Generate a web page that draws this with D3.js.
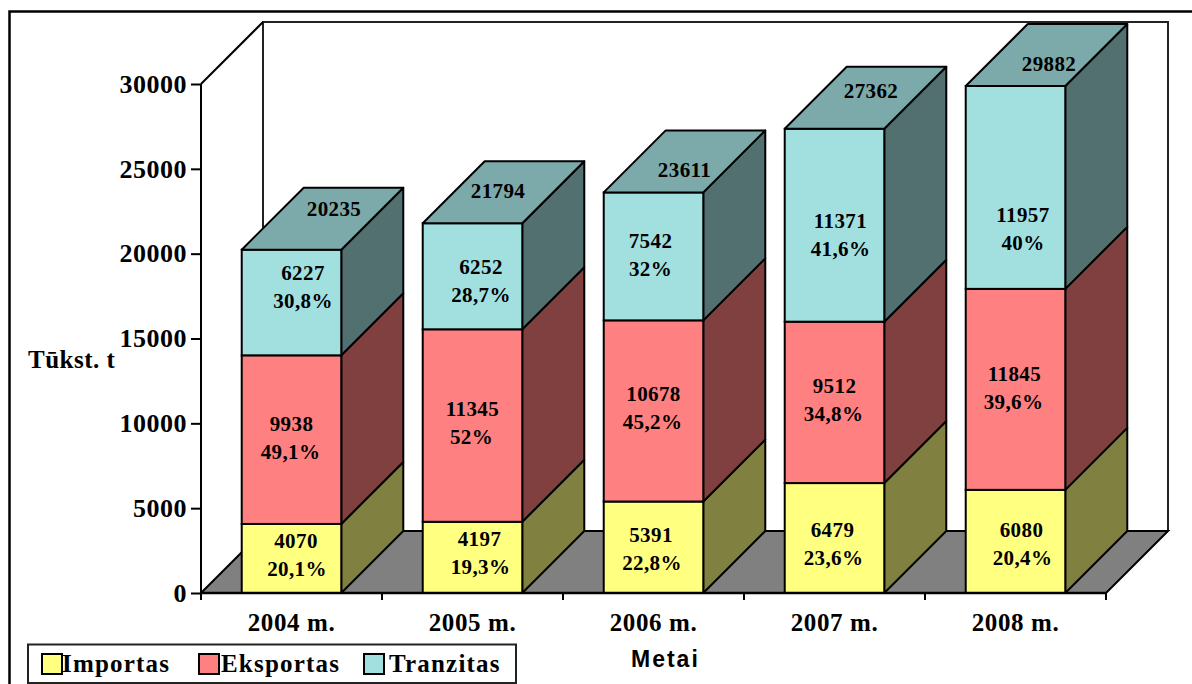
<!DOCTYPE html>
<html><head><meta charset="utf-8">
<script src="https://cdn.jsdelivr.net/npm/d3@7/dist/d3.min.js"></script>
<style>
html,body{margin:0;padding:0;background:#fff;overflow:hidden}
svg{display:block}
text{font-family:"Liberation Serif",serif;font-weight:bold;fill:#000}
.sans{font-family:"Liberation Sans",sans-serif}
</style></head><body>
<svg id="c" width="1192" height="684"></svg>
<script>
const years=["2004 m.","2005 m.","2006 m.","2007 m.","2008 m."];
const seriesNames=["Importas","Eksportas","Tranzitas"];
const importas=[4070,4197,5391,6479,6080];
const eksportas=[9938,11345,10678,9512,11845];
const tranzitas=[6227,6252,7542,11371,11957];
const totals=[20235,21794,23611,27362,29882];
const importasPct=["20,1%","19,3%","22,8%","23,6%","20,4%"];
const eksportasPct=["49,1%","52%","45,2%","34,8%","39,6%"];
const tranzitasPct=["30,8%","28,7%","32%","41,6%","40%"];
const yTicks=[0,5000,10000,15000,20000,25000,30000];

// layout-only nudges of the data labels, as placed in the reference
const nudgeX=[[4.5,7,-2.5,-2,6],[0,0,0,0,-1],[11.5,8.5,-3,6,7.5]];
const nudgeY=[[-3,-4.5,2,6,2.5],[-2,-2.5,-2.5,-2,-1.5],[-15.5,4.5,-1,9.5,41.5]];
const pctNudgeX=[1,-1,0];
const totalNudgeX=[11.5,-5.5,0,5.5,2.5];
const totalNudgeY=[-10,-1,9,-7,9];

const faceColors=["#FFFF80","#FF8080","#A2E0E0"];
const sideColors=["#808040","#804040","#527070"];
const topColor="#7CA9A9";
const depth=62;
const values=[importas,eksportas,tranzitas];
const pcts=[importasPct,eksportasPct,tranzitasPct];

const svg=d3.select("#c");
const x=d3.scaleBand().domain(years).range([201,1106]).paddingInner(.45).paddingOuter(.225);
const y=d3.scaleLinear().domain([0,30000]).range([593,84]);
const y0=y(0),yT=y(30000),xL=x.range()[0],xR=x.range()[1];
const poly=p=>p.map(a=>a.join(",")).join(" ");

// outer frame
svg.append("path").attr("d","M9.5,684V11.5H1192").attr("fill","none").attr("stroke","#000").attr("stroke-width",2.5);

// back wall
svg.append("polyline").attr("points",poly([[xL+depth,y0-depth],[xL+depth,yT-depth],[xR+depth,yT-depth],[xR+depth,y0-depth]]))
  .attr("fill","#fff").attr("stroke","#222").attr("stroke-width",2);
// left wall edge
svg.append("line").attr("x1",xL).attr("y1",yT).attr("x2",xL+depth).attr("y2",yT-depth).attr("stroke","#000").attr("stroke-width",2);
// floor
svg.append("polygon").attr("points",poly([[xL,y0],[xL+depth,y0-depth],[xR+depth,y0-depth],[xR,y0]]))
  .attr("fill","#808080").attr("stroke","#000").attr("stroke-width",2);

// bars
years.forEach((yr,i)=>{
  const g=svg.append("g");
  const bx=x(yr),w=x.bandwidth();
  let cum=0;
  values.forEach((vals,s)=>{
    const a=y(cum),b=y(cum+vals[i]);
    cum+=vals[i];
    g.append("polygon").attr("points",poly([[bx+w,a],[bx+w+depth,a-depth],[bx+w+depth,b-depth],[bx+w,b]]))
      .attr("fill",sideColors[s]).attr("stroke","#000").attr("stroke-width",2).attr("stroke-linejoin","round");
    g.append("rect").attr("x",bx).attr("y",b).attr("width",w).attr("height",a-b)
      .attr("fill",faceColors[s]).attr("stroke","#000").attr("stroke-width",2);
    if(s===2){
      g.append("polygon").attr("points",poly([[bx,b],[bx+depth,b-depth],[bx+w+depth,b-depth],[bx+w,b]]))
        .attr("fill",topColor).attr("stroke","#000").attr("stroke-width",2).attr("stroke-linejoin","round");
    }
  });
});

// data labels
const lab=(px,py,t)=>svg.append("text").attr("x",px).attr("y",py).attr("text-anchor","middle")
  .attr("dominant-baseline","central").attr("font-size",21).attr("letter-spacing",.4).text(t);
years.forEach((yr,i)=>{
  const cx=x(yr)+x.bandwidth()/2;
  let cum=0;
  values.forEach((vals,s)=>{
    const mid=y(cum+vals[i]/2);
    cum+=vals[i];
    const lx=cx+nudgeX[s][i],ly=mid+nudgeY[s][i];
    lab(lx,ly-14,vals[i]);
    lab(lx+pctNudgeX[s],ly+14,pcts[s][i]);
  });
  lab(cx+depth/2+totalNudgeX[i],y(totals[i])-depth/2+totalNudgeY[i],totals[i]);
});

// y axis
const ax=svg.append("g").attr("transform",`translate(${xL},0)`)
  .call(d3.axisLeft(y).tickValues(yTicks).tickSize(10).tickPadding(4).tickFormat(d3.format("d")));
ax.selectAll("line,path").attr("stroke","#000").attr("stroke-width",2);
ax.select(".domain").attr("d",`M0,${y0}V${yT}`);
ax.selectAll("text").attr("font-size",26).attr("font-family","Liberation Serif").attr("font-weight","bold").attr("letter-spacing",.5);

// x axis
const bx=svg.append("g").attr("transform",`translate(0,${y0})`)
  .call(d3.axisBottom(x).tickSize(0).tickPadding(20));
bx.select(".domain").attr("d",`M${xL},0H${xR}`).attr("stroke","#000").attr("stroke-width",2.5);
bx.selectAll("text").attr("font-size",25).attr("font-family","Liberation Serif").attr("font-weight","bold").attr("letter-spacing",.6);
const step=x.step();
d3.range(years.length+1).forEach(k=>{
  bx.append("line").attr("x1",xL+k*step).attr("x2",xL+k*step).attr("y1",0).attr("y2",7).attr("stroke","#000").attr("stroke-width",2);
});

// axis titles
svg.append("text").attr("x",28).attr("y",368).attr("font-size",25).attr("letter-spacing",.5).text("Tūkst. t");
svg.append("text").attr("class","sans").attr("x",631).attr("y",667).attr("font-size",23).attr("letter-spacing",2).text("Metai");

// legend
const leg=svg.append("g");
leg.append("rect").attr("x",28).attr("y",644.5).attr("width",488).attr("height",38.5).attr("fill","#fff").attr("stroke","#222").attr("stroke-width",2);
const legX=[42,199,364];
const legTextX=[62,221,389];
seriesNames.forEach((n,s)=>{
  leg.append("rect").attr("x",legX[s]).attr("y",654).attr("width",20).attr("height",20).attr("fill",faceColors[s]).attr("stroke","#000").attr("stroke-width",2);
  leg.append("text").attr("x",legTextX[s]).attr("y",672).attr("font-size",25).attr("letter-spacing",1.2).text(n);
});
</script>
</body></html>
